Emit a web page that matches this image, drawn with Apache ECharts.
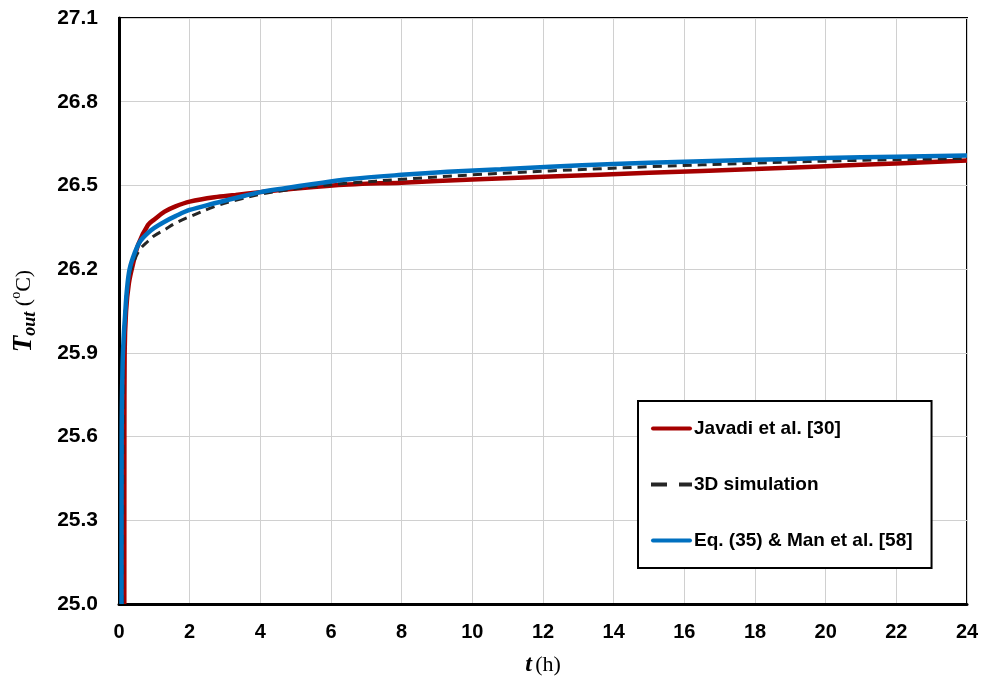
<!DOCTYPE html>
<html>
<head>
<meta charset="utf-8">
<script src="https://cdn.jsdelivr.net/npm/echarts@6/dist/echarts.min.js"></script>
<style>html,body{margin:0;padding:0;background:#fff}#c{width:982px;height:681px}</style>
</head>
<body>
<div id="c"></div>
<script>
var seriesNames = ['Javadi et al. [30]', '3D simulation', 'Eq. (35) & Man et al. [58]'];
var xTicks = [0, 2, 4, 6, 8, 10, 12, 14, 16, 18, 20, 22, 24];
var yTicks = ['25.0', '25.3', '25.6', '25.9', '26.2', '26.5', '26.8', '27.1'];

var javadiT = [0.15, 0.152, 0.16, 0.2, 0.28, 0.4, 0.55, 0.82, 1.0, 1.29, 1.6, 2, 2.7, 3.3, 4, 5.1, 6.5, 8, 10, 12.2, 15, 18, 21, 24];
var javadiV = [25.0, 25.6, 25.9, 26.05, 26.15, 26.22, 26.29, 26.358, 26.378, 26.406, 26.425, 26.442, 26.458, 26.466, 26.476, 26.49, 26.503, 26.51, 26.521, 26.532, 26.545, 26.559, 26.574, 26.589];

var simT = [0.1, 0.12, 0.15, 0.25, 0.4, 0.59, 0.82, 1.0, 1.29, 1.6, 2, 2.7, 3.3, 4, 4.7, 5.5, 6.5, 8, 10, 12.2, 15, 18, 21, 24];
var simV = [25.0, 25.8, 26.0, 26.15, 26.22, 26.27, 26.30, 26.32, 26.341, 26.365, 26.388, 26.424, 26.447, 26.468, 26.483, 26.496, 26.508, 26.522, 26.538, 26.552, 26.567, 26.58, 26.59, 26.597];

var eqT = [0.07, 0.075, 0.1, 0.13, 0.17, 0.22, 0.3, 0.45, 0.6, 0.82, 1.0, 1.29, 1.6, 2, 2.7, 3.3, 4, 4.7, 5.5, 6.5, 8, 9.3, 10.8, 12.2, 14, 16, 18, 20, 22, 24];
var eqV = [25.0, 25.6, 25.85, 25.95, 26.03, 26.12, 26.2, 26.26, 26.3, 26.33, 26.348, 26.37, 26.39, 26.412, 26.436, 26.455, 26.476, 26.49, 26.505, 26.522, 26.538, 26.549, 26.558, 26.567, 26.577, 26.585, 26.592, 26.598, 26.603, 26.607];

function zip(a, b) { return a.map(function (v, i) { return [v, b[i]]; }); }

var solidIcon = 'path://M2,0H39A2,2,0,0,1,39,4H2A2,2,0,0,1,2,0Z';
var dashIcon = 'path://M0,0H16V4H0Z M28,0H41V4H28Z';

var chart = echarts.init(document.getElementById('c'));
chart.setOption({
  animation: false,
  grid: { left: 119, right: 15, top: 18, bottom: 77, show: true, borderColor: '#000', borderWidth: 2, containLabel: false, outerBoundsMode: 'none' },
  xAxis: {
    type: 'value', min: 0, max: 24, interval: 2,
    axisLine: { show: true, onZero: false, lineStyle: { color: '#000', width: 3 } },
    axisTick: { show: false },
    splitLine: { show: true, lineStyle: { color: '#d0d0d0', width: 1 } },
    axisLabel: { margin: 18, color: '#000', fontFamily: 'Liberation Sans, Arial', fontWeight: 'bold', fontSize: 20,
      formatter: function (v) { return xTicks.indexOf(v) >= 0 ? String(v) : ''; } },
    name: '{t|t} {h|(h)}', nameLocation: 'middle', nameGap: 49,
    nameTextStyle: { rich: {
      t: { fontFamily: 'Liberation Serif, Times New Roman', fontStyle: 'italic', fontWeight: 'bold', fontSize: 24, color: '#000' },
      h: { fontFamily: 'Liberation Serif, Times New Roman', fontSize: 22, color: '#000' } } }
  },
  yAxis: {
    type: 'value', min: 25.0, max: 27.1, interval: 0.3,
    axisLine: { show: true, onZero: false, lineStyle: { color: '#000', width: 3 } },
    axisTick: { show: false },
    splitLine: { show: true, lineStyle: { color: '#d0d0d0', width: 1 } },
    axisLabel: { margin: 21, color: '#000', fontFamily: 'Liberation Sans, Arial', fontWeight: 'bold', fontSize: 21,
      formatter: function (v) { var s = v.toFixed(1); return yTicks.indexOf(s) >= 0 ? s : ''; } },
    name: '{T|T}{o|out}{p| (}{s|o}{p|C)}', nameLocation: 'middle', nameGap: 80, nameRotate: 90,
    nameTextStyle: { rich: {
      T: { fontFamily: 'Liberation Serif, Times New Roman', fontStyle: 'italic', fontWeight: 'bold', fontSize: 27, color: '#000' },
      o: { fontFamily: 'Liberation Serif, Times New Roman', fontStyle: 'italic', fontWeight: 'bold', fontSize: 18, color: '#000', verticalAlign: 'bottom', padding: [12, 0, 0, 0] },
      p: { fontFamily: 'Liberation Serif, Times New Roman', fontSize: 22, color: '#000' },
      s: { fontFamily: 'Liberation Serif, Times New Roman', fontSize: 14, color: '#000', verticalAlign: 'top', padding: [0, 0, 9, 0] } } }
  },
  legend: {
    orient: 'vertical', left: 638, top: 401,
    padding: [18, 19, 18, 13],
    itemGap: 37, itemWidth: 41, itemHeight: 4,
    borderColor: '#000', borderWidth: 2, backgroundColor: '#fff',
    textStyle: { fontFamily: 'Liberation Sans, Arial', fontWeight: 'bold', fontSize: 19, color: '#000', padding: [0, 0, 0, -3] },
    data: [
      { name: seriesNames[0], icon: solidIcon },
      { name: seriesNames[1], icon: dashIcon },
      { name: seriesNames[2], icon: solidIcon }
    ]
  },
  series: [
    { name: seriesNames[0], type: 'line', showSymbol: false, symbol: 'none', smooth: 0.35,
      lineStyle: { color: '#a50000', width: 4.5 }, itemStyle: { color: '#a50000' }, data: zip(javadiT, javadiV) },
    { name: seriesNames[1], type: 'line', showSymbol: false, symbol: 'none', smooth: 0.35,
      lineStyle: { color: '#262626', width: 3, type: [9, 6] }, itemStyle: { color: '#262626' }, data: zip(simT, simV) },
    { name: seriesNames[2], type: 'line', showSymbol: false, symbol: 'none', smooth: 0.35,
      lineStyle: { color: '#0070c0', width: 4.5 }, itemStyle: { color: '#0070c0' }, data: zip(eqT, eqV) }
  ]
});
</script>
</body>
</html>
